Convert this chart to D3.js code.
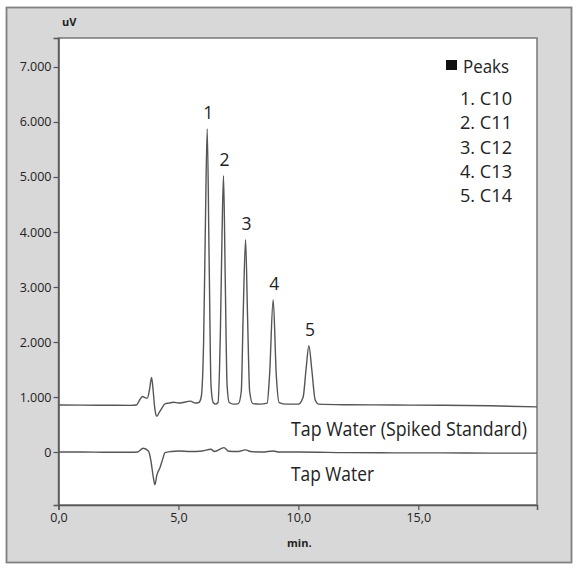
<!DOCTYPE html>
<html>
<head>
<meta charset="utf-8">
<script src="https://cdn.jsdelivr.net/npm/d3@7"></script>
<style>
  body { margin: 0; background: #fff; }
  svg text { font-family: "Open Sans", "Noto Sans", sans-serif; fill: #222; }
</style>
</head>
<body>
<div class="chrom"></div>
<script>
// retention time (min) / signal (uV)
var spikedTime = [0, 1, 2, 3, 3.25, 3.4, 3.5, 3.6, 3.7, 3.8, 3.88, 3.95, 4.0, 4.05, 4.1, 4.2, 4.3, 4.45, 4.6, 4.8, 5.0, 5.2, 5.4, 5.5, 5.7, 5.85, 5.95, 6.05, 6.12, 6.2, 6.28, 6.36, 6.45, 6.55, 6.65, 6.75, 6.82, 6.88, 6.95, 7.03, 7.12, 7.3, 7.5, 7.62, 7.7, 7.8, 7.88, 7.97, 8.1, 8.4, 8.7, 8.8, 8.95, 9.08, 9.2, 9.5, 10.0, 10.2, 10.32, 10.44, 10.56, 10.7, 10.85, 12, 14, 16, 18, 19.95];
var spikedSignal = [855, 852, 850, 848, 855, 960, 1010, 990, 980, 1150, 1357, 1100, 850, 700, 650, 720, 790, 880, 890, 905, 890, 900, 920, 925, 890, 900, 1000, 2000, 4000, 5873, 3500, 1200, 900, 870, 900, 2200, 4000, 5024, 3200, 1200, 900, 870, 880, 1100, 2500, 3860, 2500, 1100, 880, 870, 890, 1400, 2769, 1400, 900, 870, 870, 1000, 1500, 1933, 1500, 950, 870, 860, 855, 850, 840, 820];

var tapTime = [0, 1, 2, 3, 3.3, 3.53, 3.75, 3.85, 3.95, 4.02, 4.1, 4.23, 4.35, 4.44, 4.7, 5.0, 5.5, 6.0, 6.35, 6.5, 6.9, 7.1, 7.5, 7.8, 8.0, 8.5, 8.95, 9.2, 10, 12, 14, 16, 18, 19.95];
var tapSignal = [0, 0, -5, -5, 0, 70, 20, -150, -450, -595, -420, -285, -120, -10, 10, 20, 10, 20, 50, 10, 80, 15, 10, 40, 10, 0, 20, 0, 0, -10, -15, -15, -20, -20];

var peakLabels = ["1", "2", "3", "4", "5"];
var peakTimes = [6.2, 6.88, 7.8, 8.95, 10.44];
var peakHeights = [5873, 5024, 3860, 2769, 1933];
var peakNames = ["1. C10", "2. C11", "3. C12", "4. C13", "5. C14"];

var yTicks = [0, 1000, 2000, 3000, 4000, 5000, 6000, 7000];
var xTicks = [0, 5, 10, 15];

var W = 580, H = 573;
var plot = {left: 58.5, right: 537, top: 38, bottom: 505};

var loc = d3.formatLocale({decimal: ",", thousands: ".", grouping: [3], currency: ["", ""]});

var x = d3.scaleLinear().domain([0, 19.95]).range([plot.left, plot.right]);
var y = d3.scaleLinear().domain([-963, 7527]).range([plot.bottom, plot.top]);

var svg = d3.select(".chrom").append("svg")
  .attr("width", W)
  .attr("height", H);

// grey frame
svg.append("rect")
  .attr("x", 6.5).attr("y", 7.5)
  .attr("width", 565).attr("height", 555)
  .attr("fill", "#d8d8d8")
  .attr("stroke", "#808080")
  .attr("stroke-width", 1.8);

// white plot area
svg.append("rect")
  .attr("x", plot.left).attr("y", plot.top)
  .attr("width", plot.right - plot.left).attr("height", plot.bottom - plot.top)
  .attr("fill", "#fff")
  .attr("stroke", "#777")
  .attr("stroke-width", 1.5);

var line = d3.line()
  .x(function(d) { return x(d[0]); })
  .y(function(d) { return y(d[1]); })
  .curve(d3.curveMonotoneX);

svg.append("path")
  .datum(d3.zip(spikedTime, spikedSignal))
  .attr("d", line)
  .attr("fill", "none")
  .attr("stroke", "#555")
  .attr("stroke-width", 1.4);

svg.append("path")
  .datum(d3.zip(tapTime, tapSignal))
  .attr("d", line)
  .attr("fill", "none")
  .attr("stroke", "#555")
  .attr("stroke-width", 1.4);

// axes
var yAxis = svg.append("g")
  .attr("transform", "translate(" + plot.left + ",0)")
  .call(d3.axisLeft(y).tickValues(yTicks).tickFormat(loc.format(",d")).tickSize(5).tickPadding(2));
var xAxis = svg.append("g")
  .attr("transform", "translate(0," + plot.bottom + ")")
  .call(d3.axisBottom(x).tickValues(xTicks).tickFormat(loc.format(".1f")).tickSize(5).tickPadding(3));

[yAxis, xAxis].forEach(function(g) {
  g.select(".domain").attr("stroke", "#555").attr("stroke-width", 1.5);
  g.selectAll(".tick line").attr("stroke", "#555").attr("stroke-width", 1.2);
  g.selectAll(".tick text").attr("font-size", 12.5).attr("fill", "#222")
    .style("font-family", "'Open Sans', sans-serif");
});

svg.append("text")
  .attr("x", 62).attr("y", 26)
  .attr("font-size", 11).attr("font-weight", "bold")
  .text("uV");
svg.append("text")
  .attr("x", 287).attr("y", 547)
  .attr("font-size", 11).attr("font-weight", "bold")
  .text("min.");

// peak numbers
svg.selectAll(".plabel")
  .data(peakLabels)
  .enter().append("text")
  .attr("class", "plabel")
  .attr("x", function(d, i) { return x(peakTimes[i]) + 1; })
  .attr("y", function(d, i) { return y(peakHeights[i]) - 10; })
  .attr("text-anchor", "middle")
  .attr("font-size", 17.5)
  .text(function(d) { return d; });

// trace names (condensed like the original face)
svg.append("text")
  .attr("x", 291).attr("y", 436)
  .attr("font-size", 19.5)
  .attr("textLength", 236).attr("lengthAdjust", "spacingAndGlyphs")
  .text("Tap Water (Spiked Standard)");
svg.append("text")
  .attr("x", 291).attr("y", 481)
  .attr("font-size", 19.5)
  .attr("textLength", 83).attr("lengthAdjust", "spacingAndGlyphs")
  .text("Tap Water");

// legend
svg.append("rect")
  .attr("x", 446).attr("y", 60)
  .attr("width", 11).attr("height", 10)
  .attr("fill", "#111");
svg.append("text")
  .attr("x", 463).attr("y", 72.5)
  .attr("font-size", 18.5)
  .attr("textLength", 46).attr("lengthAdjust", "spacingAndGlyphs")
  .text("Peaks");
svg.selectAll(".lname")
  .data(peakNames)
  .enter().append("text")
  .attr("class", "lname")
  .attr("x", 460)
  .attr("y", function(d, i) { return 105 + i * 24.3; })
  .attr("font-size", 18)
  .attr("textLength", 52).attr("lengthAdjust", "spacingAndGlyphs")
  .text(function(d) { return d; });
</script>
</body>
</html>
